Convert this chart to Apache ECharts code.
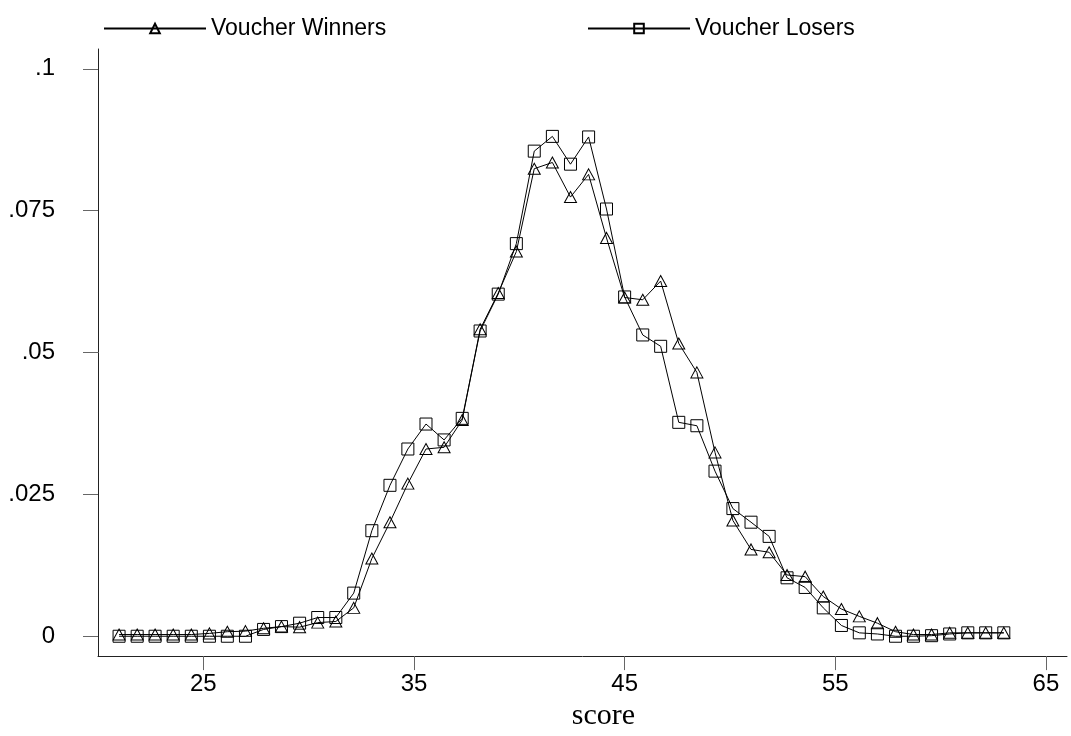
<!DOCTYPE html>
<html>
<head>
<meta charset="utf-8">
<script src="https://cdn.jsdelivr.net/npm/echarts@6/dist/echarts.min.js"></script>
<style>
  html, body { margin: 0; padding: 0; background: #fff; }
  #chart { width: 1071px; height: 736px; }
</style>
</head>
<body>
<div id="chart"></div>
<script>
// score bins (x)
const scores = [
    21.00, 21.86, 22.71, 23.57, 24.43, 25.29, 26.14, 27.00, 27.86, 28.71,
    29.57, 30.43, 31.29, 32.14, 33.00, 33.86, 34.71, 35.57, 36.43, 37.29,
    38.14, 39.00, 39.86, 40.71, 41.57, 42.43, 43.29, 44.14, 45.00, 45.86,
    46.71, 47.57, 48.43, 49.29, 50.14, 51.00, 51.86, 52.71, 53.57, 54.43,
    55.29, 56.14, 57.00, 57.86, 58.71, 59.57, 60.43, 61.29, 62.14, 63.00
];

// densities
const winners = [
    0.0003, 0.0003, 0.0003, 0.0003, 0.0003, 0.0005, 0.0008, 0.0009, 0.0014, 0.0017,
    0.0016, 0.0024, 0.0026, 0.0050, 0.0137, 0.0201, 0.0269, 0.0330, 0.0333, 0.0381,
    0.0541, 0.0605, 0.0678, 0.0824, 0.0835, 0.0774, 0.0814, 0.0702, 0.0597, 0.0593,
    0.0626, 0.0516, 0.0465, 0.0324, 0.0204, 0.0153, 0.0148, 0.0108, 0.0105, 0.0070,
    0.0048, 0.0035, 0.0023, 0.0008, 0.0003, 0.0003, 0.0006, 0.0006, 0.0006, 0.0006
];

const losers = [
    0.0000, 0.0000, 0.0000, 0.0000, 0.0000, 0.0000, 0.0000, 0.0000, 0.0012, 0.0017,
    0.0023, 0.0033, 0.0033, 0.0076, 0.0186, 0.0266, 0.0330, 0.0374, 0.0346, 0.0384,
    0.0538, 0.0603, 0.0692, 0.0855, 0.0881, 0.0832, 0.0880, 0.0753, 0.0598, 0.0531,
    0.0511, 0.0377, 0.0371, 0.0291, 0.0225, 0.0201, 0.0176, 0.0103, 0.0086, 0.0050,
    0.0019, 0.0006, 0.0004, 0.0000, 0.0000, 0.0001, 0.0004, 0.0006, 0.0006, 0.0006
];

const xTicks = [25, 35, 45, 55, 65];
const yTicks = [0, 0.025, 0.05, 0.075, 0.1];

const pairs = (xs, ys) => xs.map((x, i) => [x, ys[i]]);

const chart = echarts.init(document.getElementById("chart"));

const hollow = { color: "rgba(0,0,0,0)", borderColor: "#000", borderWidth: 1 };
const legendText = { fontFamily: "Liberation Sans", fontSize: 23, color: "#000" };

chart.setOption({
    animation: false,
    backgroundColor: "#fff",
    grid: { left: 98, right: 4, top: 49, bottom: 74, containLabel: false },
    legend: [
        {
            data: ["Voucher Winners"],
            left: 98, top: 12,
            itemWidth: 102, itemHeight: 12,
            textStyle: legendText
        },
        {
            data: ["Voucher Losers"],
            left: 582, top: 12,
            itemWidth: 102, itemHeight: 12,
            textStyle: legendText
        }
    ],
    xAxis: {
        type: "value",
        min: 20, max: 66,
        name: "score",
        nameLocation: "middle",
        nameGap: 36,
        nameTextStyle: {
            fontFamily: "Liberation Serif", fontSize: 30, color: "#000",
            padding: [0, 0, 0, 42]
        },
        axisLine: { show: true, onZero: false, lineStyle: { color: "#222", width: 1 } },
        axisTick: { show: true, inside: false, length: 14, customValues: xTicks, lineStyle: { color: "#666" } },
        axisLabel: {
            customValues: xTicks, margin: 16,
            fontFamily: "Liberation Sans", fontSize: 24, color: "#000"
        },
        splitLine: { show: false }
    },
    yAxis: {
        type: "value",
        min: -0.0035, max: 0.1035,
        axisLine: { show: true, onZero: false, lineStyle: { color: "#222", width: 1 } },
        axisTick: { show: true, inside: false, length: 15, customValues: yTicks, lineStyle: { color: "#666" } },
        axisLabel: {
            customValues: yTicks, margin: 43,
            fontFamily: "Liberation Sans", fontSize: 24, color: "#000",
            formatter: (v) => (v === 0 ? "0" : String(v).replace(/^0/, ""))
        },
        splitLine: { show: false }
    },
    series: [
        {
            name: "Voucher Winners",
            type: "line",
            data: pairs(scores, winners),
            symbol: "triangle",
            symbolSize: [12, 11],
            lineStyle: { color: "#000", width: 1 },
            itemStyle: hollow
        },
        {
            name: "Voucher Losers",
            type: "line",
            data: pairs(scores, losers),
            symbol: "rect",
            symbolSize: 12,
            lineStyle: { color: "#000", width: 1 },
            itemStyle: hollow
        }
    ]
});
</script>
</body>
</html>
